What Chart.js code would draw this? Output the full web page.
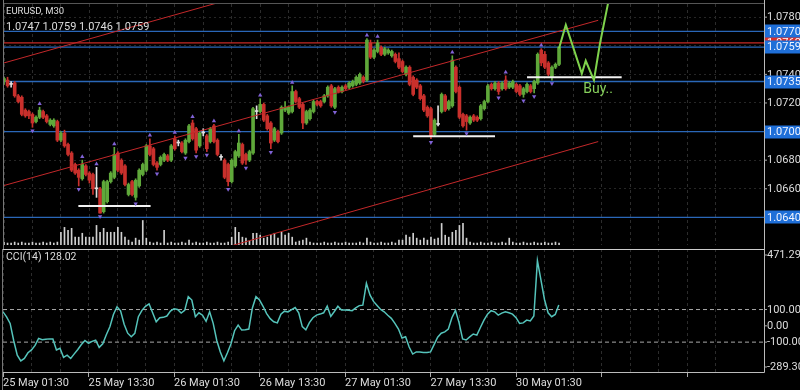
<!DOCTYPE html>
<html>
<head>
<meta charset="utf-8">
<script src="https://cdn.jsdelivr.net/npm/chart.js@4.4.0/dist/chart.umd.min.js"></script>
<style>
html, body { margin: 0; padding: 0; background: #000; width: 800px; height: 390px; overflow: hidden; font-family: Roboto, sans-serif; }
canvas { position: absolute; left: 0; }
#top { top: 0; }
#bot { top: 249px; }
.txt { position: absolute; color: #ddd; white-space: nowrap; line-height: 1; }
</style>
</head>
<body>
<canvas id="top" width="800" height="249"></canvas>
<canvas id="bot" width="800" height="141"></canvas>
<div class="txt" style="left:6px;top:6px;font-size:9.5px">EURUSD, M30</div>
<div class="txt" style="left:6px;top:21px;font-size:11px">1.0747 1.0759 1.0746 1.0759</div>
<div class="txt" style="left:6px;top:252px;font-size:10.5px">CCI(14) 128.02</div>
<script>
// --- data (EURUSD M30, 157 bars) ---
const opens = [1.0735,1.0736,1.0733,1.0734,1.0725,1.0724,1.0715,1.0714,1.0712,1.0707,
1.0710,1.0714,1.0711,1.0705,1.0704,1.0707,1.0694,1.0699,1.0691,1.0685,
1.0677,1.0673,1.0667,1.0676,1.0671,1.0670,1.0660,1.0660,1.0644,1.0651,
1.0665,1.0668,1.0685,1.0680,1.0676,1.0656,1.0665,1.0654,1.0662,1.0670,
1.0673,1.0690,1.0688,1.0678,1.0677,1.0680,1.0683,1.0680,1.0695,1.0692,
1.0692,1.0685,1.0693,1.0706,1.0702,1.0690,1.0699,1.0697,1.0693,1.0704,
1.0694,1.0682,1.0680,1.0677,1.0665,1.0676,1.0683,1.0691,1.0684,1.0680,
1.0685,1.0714,1.0714,1.0719,1.0711,1.0706,1.0694,1.0700,1.0699,1.0715,
1.0713,1.0714,1.0728,1.0723,1.0719,1.0706,1.0709,1.0714,1.0721,1.0721,
1.0721,1.0725,1.0732,1.0717,1.0731,1.0728,1.0732,1.0731,1.0732,1.0733,
1.0734,1.0738,1.0736,1.0762,1.0752,1.0756,1.0759,1.0754,1.0755,1.0753,
1.0754,1.0751,1.0749,1.0740,1.0745,1.0738,1.0736,1.0732,1.0725,1.0717,
1.0716,1.0698,1.0705,1.0714,1.0725,1.0716,1.0718,1.0745,1.0731,1.0712,
1.0711,1.0706,1.0711,1.0710,1.0709,1.0716,1.0721,1.0733,1.0730,1.0734,
1.0730,1.0736,1.0731,1.0731,1.0733,1.0732,1.0726,1.0728,1.0732,1.0730,
1.0734,1.0757,1.0754,1.0748,1.0738,1.0745,1.0747];
const highs = [1.0738,1.0738,1.0735,1.0735,1.0726,1.0725,1.0716,1.0715,1.0713,1.0711,
1.0717,1.0715,1.0712,1.0709,1.0709,1.0708,1.0700,1.0701,1.0692,1.0686,
1.0678,1.0674,1.0680,1.0677,1.0672,1.0671,1.0675,1.0661,1.0666,1.0666,
1.0672,1.0689,1.0686,1.0681,1.0677,1.0664,1.0666,1.0667,1.0674,1.0678,
1.0691,1.0695,1.0689,1.0679,1.0683,1.0685,1.0684,1.0691,1.0697,1.0694,
1.0693,1.0695,1.0705,1.0708,1.0703,1.0700,1.0702,1.0698,1.0703,1.0705,
1.0695,1.0684,1.0681,1.0678,1.0681,1.0687,1.0698,1.0692,1.0685,1.0687,
1.0717,1.0718,1.0723,1.0720,1.0712,1.0707,1.0703,1.0701,1.0718,1.0721,
1.0718,1.0732,1.0729,1.0724,1.0720,1.0715,1.0716,1.0722,1.0722,1.0722,
1.0726,1.0732,1.0733,1.0731,1.0732,1.0732,1.0733,1.0735,1.0736,1.0739,
1.0741,1.0739,1.0765,1.0764,1.0758,1.0764,1.0760,1.0759,1.0758,1.0757,
1.0755,1.0755,1.0750,1.0746,1.0746,1.0739,1.0737,1.0733,1.0726,1.0718,
1.0717,1.0709,1.0718,1.0727,1.0726,1.0722,1.0753,1.0746,1.0732,1.0713,
1.0712,1.0711,1.0712,1.0711,1.0719,1.0722,1.0733,1.0734,1.0735,1.0735,
1.0735,1.0739,1.0735,1.0736,1.0734,1.0733,1.0731,1.0734,1.0733,1.0736,
1.0755,1.0758,1.0756,1.0749,1.0746,1.0748,1.0759];
const lows = [1.0733,1.0731,1.0731,1.0724,1.0720,1.0711,1.0710,1.0709,1.0703,1.0706,
1.0709,1.0709,1.0706,1.0704,1.0703,1.0693,1.0693,1.0689,1.0683,1.0672,
1.0670,1.0662,1.0666,1.0669,1.0664,1.0656,1.0654,1.0643,1.0643,1.0650,
1.0664,1.0667,1.0672,1.0670,1.0662,1.0655,1.0655,1.0652,1.0661,1.0669,
1.0672,1.0683,1.0676,1.0673,1.0676,1.0679,1.0679,1.0679,1.0687,1.0690,
1.0685,1.0684,1.0692,1.0694,1.0685,1.0689,1.0697,1.0686,1.0692,1.0692,
1.0683,1.0680,1.0667,1.0662,1.0664,1.0675,1.0682,1.0677,1.0677,1.0679,
1.0684,1.0709,1.0713,1.0707,1.0701,1.0688,1.0693,1.0692,1.0698,1.0714,
1.0712,1.0713,1.0720,1.0716,1.0702,1.0705,1.0708,1.0713,1.0718,1.0717,
1.0720,1.0724,1.0717,1.0716,1.0727,1.0727,1.0729,1.0730,1.0731,1.0732,
1.0733,1.0734,1.0735,1.0751,1.0751,1.0755,1.0753,1.0753,1.0754,1.0752,
1.0748,1.0744,1.0741,1.0739,1.0732,1.0725,1.0730,1.0722,1.0714,1.0710,
1.0695,1.0697,1.0704,1.0713,1.0714,1.0715,1.0717,1.0727,1.0709,1.0703,
1.0701,1.0705,1.0707,1.0707,1.0708,1.0715,1.0720,1.0729,1.0729,1.0726,
1.0729,1.0729,1.0730,1.0730,1.0727,1.0725,1.0724,1.0727,1.0727,1.0727,
1.0733,1.0746,1.0744,1.0739,1.0736,1.0744,1.0746];
const closes = [1.0737,1.0732,1.0733,1.0725,1.0721,1.0712,1.0711,1.0711,1.0706,1.0710,
1.0715,1.0710,1.0707,1.0708,1.0708,1.0694,1.0699,1.0690,1.0684,1.0673,
1.0671,1.0668,1.0677,1.0670,1.0666,1.0660,1.0660,1.0643,1.0665,1.0665,
1.0671,1.0684,1.0673,1.0671,1.0663,1.0663,1.0656,1.0666,1.0673,1.0677,
1.0690,1.0684,1.0677,1.0675,1.0682,1.0684,1.0680,1.0690,1.0688,1.0692,
1.0686,1.0694,1.0704,1.0695,1.0687,1.0699,1.0699,1.0688,1.0702,1.0693,
1.0684,1.0682,1.0668,1.0665,1.0680,1.0686,1.0692,1.0678,1.0680,1.0686,
1.0716,1.0714,1.0719,1.0708,1.0702,1.0692,1.0702,1.0693,1.0717,1.0717,
1.0717,1.0728,1.0721,1.0717,1.0706,1.0714,1.0715,1.0721,1.0719,1.0718,
1.0725,1.0731,1.0718,1.0730,1.0728,1.0731,1.0730,1.0734,1.0735,1.0738,
1.0740,1.0735,1.0764,1.0752,1.0757,1.0762,1.0754,1.0758,1.0757,1.0756,
1.0749,1.0745,1.0742,1.0745,1.0733,1.0726,1.0731,1.0723,1.0715,1.0711,
1.0697,1.0708,1.0705,1.0726,1.0715,1.0721,1.0750,1.0728,1.0710,1.0704,
1.0707,1.0710,1.0708,1.0708,1.0718,1.0721,1.0732,1.0730,1.0734,1.0728,
1.0734,1.0730,1.0734,1.0735,1.0728,1.0726,1.0730,1.0733,1.0728,1.0735,
1.0754,1.0748,1.0745,1.0740,1.0745,1.0747,1.0759];
const volumes = [3,2,2,3,2,3,2,2,3,2,
2,3,2,3,2,3,13,18,15,17,
8,8,12,8,8,8,20,13,17,13,
13,13,18,13,8,5,3,7,5,25,
7,3,2,3,2,15,2,3,2,2,
3,2,5,2,3,2,2,3,2,2,
3,2,2,3,8,18,13,8,7,4,
12,12,10,7,8,10,12,7,13,10,
12,8,3,4,5,7,3,2,2,2,
3,2,2,3,2,2,3,2,2,2,
3,2,7,3,2,2,3,2,2,3,
2,5,5,10,8,12,7,5,7,5,
8,6,7,22,10,8,13,15,20,22,
7,3,2,2,3,2,2,3,2,2,
3,2,7,3,2,2,3,2,2,3,
2,2,3,2,2,3,2];
const cci = [86,55,15,-90,-180,-215,-200,-165,-148,-120,
-77,-85,-82,-80,-81,-148,-138,-193,-180,-200,
-172,-145,-115,-90,-107,-95,-88,-132,-110,-55,
-6,70,117,92,10,-45,-67,-46,56,95,
120,135,80,25,50,52,60,90,105,100,
78,95,179,158,56,80,65,28,86,15,
-90,-160,-214,-165,-110,-30,5,-26,-24,-20,
110,179,158,120,75,44,25,18,72,90,
85,100,112,80,-5,-24,20,50,66,72,
80,121,58,88,120,97,97,96,93,110,
124,127,261,190,150,125,100,86,65,46,
15,-20,-75,-67,-130,-173,-160,-160,-163,-163,
-160,-115,-70,-45,-37,-20,50,95,20,-80,
-87,-68,-50,-57,-10,35,72,93,86,66,
78,86,80,72,50,15,18,35,30,60,
400,280,160,80,56,70,128.02];

// fractal bars (index of bar)
const fractalUp = [10,22,26,31,41,48,53,59,66,72,81,102,105,126,141,151];
const fractalDown = [8,21,27,37,43,51,54,57,63,68,75,93,120,130,139,146,149,154];

const tickLabels = ['25 May 01:30','25 May 13:30','26 May 01:30','26 May 13:30','27 May 01:30','27 May 13:30','30 May 01:30'];
const priceTicks = [1.0640,1.0660,1.0680,1.0700,1.0720,1.0740,1.0760,1.0780];
const levelPrices = [1.0770,1.0759,1.0735,1.0700,1.0640];
const redLevel = 1.0762;
const cciTicks = [471.29,100,0,-100,-289.30];
const cciLevels = [100,-100];

// drawn objects (bar index, price)
const upperChannel = [{x:0,y:1.0748},{x:60,y:1.0790}];
const middleChannel = [{x:0,y:1.06623},{x:167,y:1.07778}];
const lowerChannel = [{x:63.7,y:1.0620},{x:167,y:1.0693}];
const supportLines = [
  [{x:20.9,y:1.06479},{x:41.2,y:1.06479}],
  [{x:115,y:1.06967},{x:138,y:1.06967}],
  [{x:147,y:1.07380},{x:173.6,y:1.07380}]
];
const forecastX = [156,157.9,162.4,163.5,165.8,167.5,169.8];
const forecastY = [1.07582,1.07746,1.07405,1.07495,1.07360,1.07616,1.07901];
const buyNote = {text:'Buy..', x:162.8, y:1.0730};

const X_MAX = 213.6;
const PRICE_MIN = 1.06207, PRICE_MAX = 1.07892;
const VOL_MAX = 246;
const CCI_MIN = -289.30, CCI_MAX = 471.29;

Chart.defaults.font.family = 'Roboto';
Chart.defaults.animation = false;

const GREEN = '#5fa83a', RED = '#c9302c', DOJI = '#e0e0e0';
const candleColor = opens.map((o, i) => closes[i] > o ? GREEN : closes[i] < o ? RED : DOJI);
const idx = opens.map((_, i) => i);
const span = v => [{x:0,y:v},{x:X_MAX,y:v}];

function xAxis(showLabels) {
  return {
    type: 'linear', min: 0, max: X_MAX, offset: false,
    grid: {
      offset: false, color: '#2c2c2c', drawTicks: showLabels, tickLength: 4,
      tickColor: c => (c.tick && c.tick.value % 24 === 0) ? '#aaa' : 'rgba(0,0,0,0)'
    },
    border: {display: false, dash: [3, 3]},
    ticks: {
      display: showLabels, stepSize: 8, autoSkip: false, maxRotation: 0, align: 'start',
      padding: 0, color: '#ddd', font: {size: 11},
      callback: v => (v % 24 === 0 && tickLabels[v / 24]) || ''
    },
    afterFit: s => { s.height = showLabels ? 17 : 0; }
  };
}

function framePlugin(sides) {
  return {
    id: 'frame',
    afterDraw(chart) {
      const {ctx, chartArea: a} = chart;
      ctx.save();
      ctx.lineWidth = 1;
      const seg = (col, x1, y1, x2, y2) => {
        ctx.strokeStyle = col; ctx.beginPath(); ctx.moveTo(x1, y1); ctx.lineTo(x2, y2); ctx.stroke();
      };
      const L = a.left - 0.5, R = a.right + 0.5, T = a.top - 0.5, B = a.bottom - 0.5;
      if (sides.top) seg(sides.top, L, T < 0.5 ? 0.5 : T, R, T < 0.5 ? 0.5 : T);
      if (sides.bottom) seg(sides.bottom, L, B, R, B);
      seg('#777', L, 0, L, chart.height);
      seg('#bbb', R, 0, R, sides.bottom ? B : chart.height);
      ctx.restore();
    }
  };
}

function axisTextPlugin(items) {
  return {
    id: 'axisText',
    afterDraw(chart) {
      const {ctx, chartArea: a} = chart;
      const ys = chart.scales.y;
      ctx.save();
      ctx.font = '11px Roboto';
      ctx.textBaseline = 'middle';
      items.forEach(it => {
        let y = ys.getPixelForValue(it.value);
        y = Math.min(Math.max(y, a.top + 6), a.bottom - 6);
        if (it.bg) {
          ctx.fillStyle = it.bg;
          ctx.fillRect(a.right + 1, Math.round(y) - 6.5, 36, 13);
        } else {
          ctx.strokeStyle = '#aaa';
          ctx.beginPath(); ctx.moveTo(a.right, y); ctx.lineTo(a.right + 3, y); ctx.stroke();
        }
        ctx.fillStyle = it.color;
        ctx.fillText(it.text, a.right + 3, y + 0.5);
      });
      ctx.restore();
    }
  };
}

const buyPlugin = {
  id: 'buyNote',
  afterDatasetsDraw(chart) {
    const {ctx} = chart;
    ctx.save();
    ctx.font = '14px Roboto';
    ctx.fillStyle = '#86d05c';
    ctx.textBaseline = 'middle';
    ctx.fillText(buyNote.text, chart.scales.x.getPixelForValue(buyNote.x), chart.scales.y.getPixelForValue(buyNote.y) + 1);
    ctx.restore();
  }
};

const lineDs = (data, color, width, order, extra) => Object.assign({
  type: 'line', data, borderColor: color, borderWidth: width, pointRadius: 0,
  fill: false, clip: 0, order, tension: 0
}, extra || {});

const topLabels = priceTicks.map(v => ({value: v, text: v.toFixed(4), color: '#ddd'}))
  .concat([{value: redLevel, text: redLevel.toFixed(4), color: '#fff', bg: '#d8302a'}])
  .concat(levelPrices.map(v => ({value: v, text: v.toFixed(4), color: '#f0f4ff', bg: '#1f6fd8'})));

new Chart(document.getElementById('top'), {
  type: 'bar',
  data: {
    datasets: [
      {type: 'bar', yAxisID: 'yv', data: idx.map(i => ({x: i, y: volumes[i]})),
       backgroundColor: '#cfcfcf', barThickness: 1, grouped: false, order: 20},
      ...levelPrices.map(v => lineDs(span(v), '#2a67b8', 1.3, 15)),
      lineDs(span(redLevel), '#c42a26', 1.3, 15),
      {type: 'bar', data: idx.map(i => ({x: i, y: [lows[i], highs[i]]})),
       backgroundColor: candleColor, barThickness: 1, grouped: false, order: 10},
      {type: 'bar', data: idx.map(i => ({x: i, y: [opens[i], closes[i]]})),
       backgroundColor: candleColor, barThickness: 3, minBarLength: 1, grouped: false, order: 9},
      lineDs(upperChannel, '#c3282a', 1, 6),
      lineDs(middleChannel, '#c3282a', 1, 6),
      lineDs(lowerChannel, '#c3282a', 1, 6),
      ...supportLines.map(s => lineDs(s, '#f2f2f2', 2, 5)),
      lineDs(fractalUp.map(i => ({x: i, y: highs[i] + 0.00024})), '#8062d6', 0, 4,
        {showLine: false, pointRadius: 2.5, pointStyle: 'triangle', pointBackgroundColor: '#8062d6', pointBorderWidth: 0}),
      lineDs(fractalDown.map(i => ({x: i, y: lows[i] - 0.00024})), '#8062d6', 0, 4,
        {showLine: false, pointRadius: 2.5, pointStyle: 'triangle', pointRotation: 180, pointBackgroundColor: '#8062d6', pointBorderWidth: 0}),
      lineDs(forecastX.map((x, i) => ({x, y: forecastY[i]})), '#7fd24c', 2, 1)
    ]
  },
  options: {
    responsive: false,
    events: [],
    layout: {padding: {left: 3, top: 3, right: 0, bottom: 0}},
    plugins: {legend: {display: false}, tooltip: {enabled: false}},
    scales: {
      x: xAxis(false),
      y: {
        position: 'right', min: PRICE_MIN, max: PRICE_MAX,
        afterBuildTicks: s => { s.ticks = priceTicks.map(v => ({value: v})); },
        ticks: {display: false},
        grid: {color: '#262626', drawTicks: false},
        border: {display: false, dash: [2, 3]},
        afterFit: s => { s.width = 36; }
      },
      yv: {display: false, min: 0, max: VOL_MAX}
    }
  },
  plugins: [framePlugin({top: '#555'}), axisTextPlugin(topLabels), buyPlugin]
});

const cciLabels = cciTicks.map(v => ({value: v, text: v.toFixed(2), color: '#ddd'}));

new Chart(document.getElementById('bot'), {
  type: 'line',
  data: {
    datasets: [
      ...cciLevels.map(v => lineDs(span(v), '#a8a8a8', 1, 5, {borderDash: [4, 3]})),
      lineDs(idx.map(i => ({x: i, y: cci[i]})), '#55c4bb', 1.5, 1)
    ]
  },
  options: {
    responsive: false,
    events: [],
    layout: {padding: {left: 3, top: 0, right: 0, bottom: 0}},
    plugins: {legend: {display: false}, tooltip: {enabled: false}},
    scales: {
      x: xAxis(true),
      y: {
        position: 'right', min: CCI_MIN, max: CCI_MAX,
        afterBuildTicks: s => { s.ticks = cciTicks.map(v => ({value: v})); },
        ticks: {display: false},
        grid: {display: false},
        border: {display: false},
        afterFit: s => { s.width = 36; }
      }
    }
  },
  plugins: [framePlugin({top: '#ccc', bottom: '#bbb'}), axisTextPlugin(cciLabels)]
});
</script>
</body>
</html>
